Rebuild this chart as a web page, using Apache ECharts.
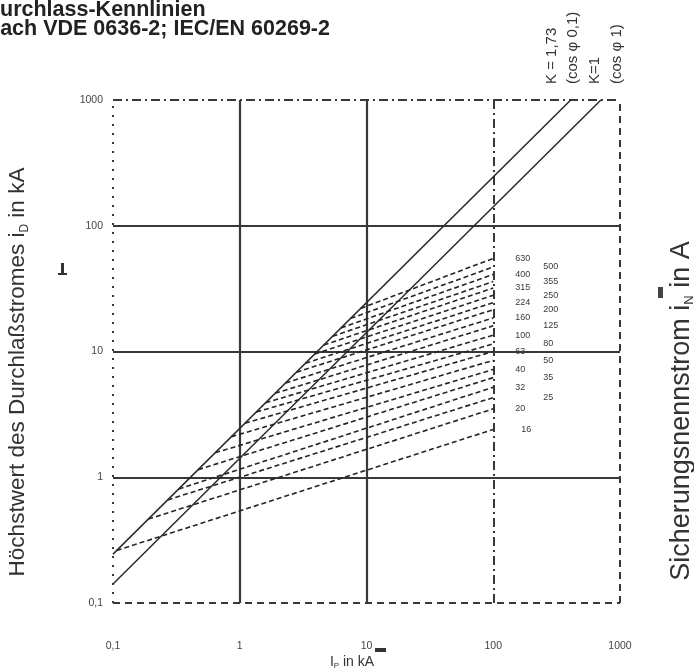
<!DOCTYPE html>
<html>
<head>
<meta charset="utf-8">
<script src="https://cdn.jsdelivr.net/npm/echarts@6/dist/echarts.min.js"></script>
<style>
  html, body { margin: 0; padding: 0; background: #fff; }
  #chart { width: 694px; height: 670px; }
</style>
</head>
<body>
<div id="chart"></div>
<script>
// Decade ticks shared by both logarithmic axes (kA)
const decadeTicks = [0.1, 1, 10, 100, 1000];
const decadeLabels = ['0,1', '1', '10', '100', '1000'];

// Peak factors of the two envelope lines i = K * sqrt(2) * Ip
const envelopeK = [1.73, 1];

// Fuse rated currents (A), from the top curve downwards
const fuseRatings = [630, 500, 400, 355, 315, 250, 224, 200, 160, 125, 100, 80, 63, 50, 40, 35, 32, 25, 20, 16];
// Prospective current Ip (kA) where each fuse begins to limit
const onsetIp = [9, 7.5, 6.3, 5.4, 4.6, 3.9, 3.3, 2.8, 2.3, 1.9, 1.6, 1.35, 1.1, 0.86, 0.64, 0.47, 0.33, 0.27, 0.19, 0.107];
// Cut-off current iD (kA) at Ip = 100 kA
const cutoffAt100 = [55, 47, 41, 36, 32, 28, 24.5, 21.5, 18.5, 16, 13.5, 11.5, 10, 8.5, 7.2, 6.2, 5.2, 4.3, 3.5, 2.4];

const FONT = '"Liberation Sans", Arial, Helvetica, sans-serif';
const INK = '#383838';

const chart = echarts.init(document.getElementById('chart'), null, { renderer: 'canvas' });

function decadeLabel(v) {
  const i = Math.round(Math.log10(v)) + 1;
  return decadeLabels[i] !== undefined ? decadeLabels[i] : '';
}

// grid line styles per decade
const solid = { type: 'solid', width: 2.2, color: INK };
const dashDot = { type: [9, 4, 2, 4], width: 2, color: INK };
const dashed = { type: [7, 5], width: 2, color: INK };
const dotted = { type: [2, 7], width: 2, color: INK };
const vStyles = [dotted, solid, solid, dashDot, dashed];
const hStyles = [dashed, solid, solid, solid, dashDot];

const gridLines = [];
decadeTicks.forEach((t, i) => {
  gridLines.push({ xAxis: t, lineStyle: vStyles[i] });
  gridLines.push({ yAxis: t, lineStyle: hStyles[i] });
});

const firstX = decadeTicks[0];
const lastY = decadeTicks[decadeTicks.length - 1];

const series = [];
envelopeK.forEach((k, i) => {
  const f = k * Math.SQRT2;
  series.push({
    type: 'line',
    name: 'K=' + k,
    data: [[firstX, f * firstX], [lastY / f, lastY]],
    symbol: 'none',
    lineStyle: { color: '#2a2a2a', width: 1.5 },
    z: 3,
    markLine: i === 0 ? {
      silent: true,
      symbol: 'none',
      label: { show: false },
      data: gridLines,
      z: 1
    } : undefined
  });
});

const kStart = envelopeK[0] * Math.SQRT2;
fuseRatings.forEach((r, i) => {
  const x0 = onsetIp[i];
  const last = i === fuseRatings.length - 1;
  series.push({
    type: 'line',
    name: r + ' A',
    data: [[x0, kStart * x0], [100, cutoffAt100[i]]],
    symbol: 'none',
    lineStyle: { color: '#252525', width: 1.6, type: [5, 3] },
    z: 4,
    endLabel: {
      show: true,
      formatter: String(r),
      offset: [last ? 20 : (i % 2 === 0 ? 14 : 42), 0],
      fontFamily: FONT,
      fontSize: 9,
      color: '#3a3a3a'
    }
  });
});

const option = {
  animation: false,
  backgroundColor: '#fff',
  grid: { left: 113, right: 74, top: 100, bottom: 67 },
  xAxis: {
    type: 'log', logBase: 10, min: 0.1, max: 1000,
    axisLine: { show: false }, axisTick: { show: false }, splitLine: { show: false },
    axisLabel: { formatter: decadeLabel, margin: 38, fontFamily: FONT, fontSize: 10.5, color: '#444' }
  },
  yAxis: {
    type: 'log', logBase: 10, min: 0.1, max: 1000,
    axisLine: { show: false }, axisTick: { show: false }, splitLine: { show: false },
    axisLabel: { formatter: decadeLabel, margin: 10, fontFamily: FONT, fontSize: 10.5, color: '#444' }
  },
  series: series,
  graphic: [
    // heading
    { type: 'text', left: -15.5, top: -1, style: { text: 'Durchlass-Kennlinien', font: 'bold 21.5px ' + FONT, fill: '#222' } },
    { type: 'text', left: -13, top: 18, style: { text: 'nach VDE 0636-2; IEC/EN 60269-2', font: 'bold 21.5px ' + FONT, fill: '#222' } },
    // envelope captions
    { type: 'text', x: 552, y: 84, rotation: Math.PI / 2, style: { text: 'K = 1,73', font: '15px ' + FONT, fill: '#333', align: 'left', verticalAlign: 'middle' } },
    { type: 'text', x: 573, y: 84, rotation: Math.PI / 2, style: { text: '(cos φ 0,1)', font: '15px ' + FONT, fill: '#333', align: 'left', verticalAlign: 'middle' } },
    { type: 'text', x: 595, y: 84, rotation: Math.PI / 2, style: { text: 'K=1', font: '15px ' + FONT, fill: '#333', align: 'left', verticalAlign: 'middle' } },
    { type: 'text', x: 617, y: 84, rotation: Math.PI / 2, style: { text: '(cos φ 1)', font: '15px ' + FONT, fill: '#333', align: 'left', verticalAlign: 'middle' } },
    // axis titles
    { type: 'text', x: 18, y: 372, rotation: Math.PI / 2, style: {
        text: 'Höchstwert des Durchlaßstromes i{s|D} in kA', font: '22.5px ' + FONT, fill: '#333',
        align: 'center', verticalAlign: 'middle',
        rich: { s: { fontSize: 12, fontFamily: FONT, fill: '#333', padding: [13, 0, 0, 0] } } } },
    { type: 'text', x: 682, y: 411, rotation: Math.PI / 2, style: {
        text: 'Sicherungsnennstrom i{s|N} in A', font: '27px ' + FONT, fill: '#333',
        align: 'center', verticalAlign: 'middle',
        rich: { s: { fontSize: 13, fontFamily: FONT, fill: '#333', padding: [15, 0, 0, 0] } } } },
    { type: 'text', x: 352, y: 662, style: {
        text: 'I{s|P} in kA', font: '14px ' + FONT, fill: '#333',
        align: 'center', verticalAlign: 'middle',
        rich: { s: { fontSize: 8, fontFamily: FONT, fill: '#333', padding: [7, 0, 0, 0] } } } },
    // direction markers
    { type: 'rect', shape: { x: 61, y: 263, width: 3, height: 12 }, style: { fill: '#333' } },
    { type: 'rect', shape: { x: 58, y: 273, width: 9, height: 2 }, style: { fill: '#333' } },
    { type: 'rect', shape: { x: 658, y: 287, width: 5, height: 11 }, style: { fill: '#444' } },
    { type: 'rect', shape: { x: 375, y: 648, width: 11, height: 4 }, style: { fill: '#333' } }
  ]
};

chart.setOption(option);
</script>
</body>
</html>
